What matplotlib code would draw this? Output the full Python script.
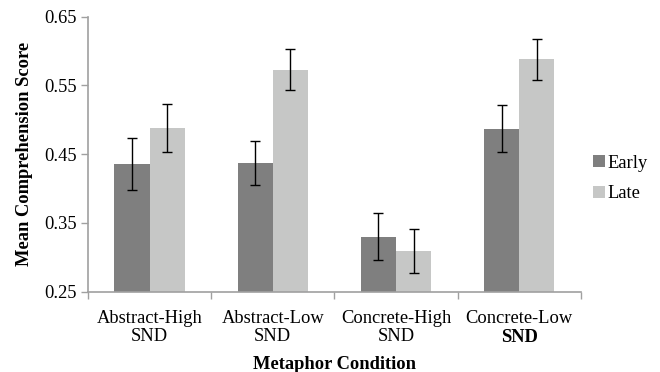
import matplotlib
matplotlib.use('Agg')
import matplotlib.pyplot as plt
import numpy as np

# Metaphor conditions and mean comprehension scores
CATEGORIES = ['Abstract-High\nSND', 'Abstract-Low\nSND', 'Concrete-High\nSND', 'Concrete-Low']
EARLY = [0.436, 0.437, 0.330, 0.487]
LATE = [0.488, 0.573, 0.309, 0.588]
EARLY_ERR = [0.038, 0.032, 0.034, 0.034]
LATE_ERR = [0.035, 0.030, 0.032, 0.030]
YTICKS = [0.25, 0.35, 0.45, 0.55, 0.65]

plt.rcParams['font.family'] = ['Liberation Serif', 'DejaVu Serif']
FS = 13.3

fig = plt.figure(figsize=(6.6, 3.72), dpi=100)
ax = fig.add_axes([0.1333, 0.2159, 0.7467, 0.7392])

x = np.arange(len(CATEGORIES))
w = 0.285
err_kw = dict(ecolor='black', elinewidth=1.0, capsize=3.5, capthick=1.0)
ax.bar(x - w / 2, EARLY, w, color='#7f7f7f', yerr=EARLY_ERR,
       error_kw=err_kw, label='Early')
ax.bar(x + w / 2, LATE, w, color='#c6c7c6', yerr=LATE_ERR,
       error_kw=err_kw, label='Late')

ax.set_xlim(-0.5, len(CATEGORIES) - 0.5)
ax.set_ylim(0.25, 0.65)
ax.set_yticks(YTICKS)
ax.set_yticklabels([f'{t:.2f}' for t in YTICKS], fontsize=FS)

# category labels centered, ticks on category boundaries
ax.set_xticks(x)
ax.set_xticklabels(CATEGORIES, fontsize=FS, linespacing=1.12)
ax.tick_params(axis='x', length=0, pad=13)
ax.set_xticks(np.arange(len(CATEGORIES) + 1) - 0.5, minor=True)
ax.tick_params(axis='x', which='minor', length=5, color='#a0a0a0', width=1)
ax.tick_params(axis='y', length=5, color='#a0a0a0', width=1, pad=3)
# second line of the last label is bold in the original
ax.text(x[-1], -0.165, 'SND', transform=ax.get_xaxis_transform(),
        ha='center', va='center', fontsize=FS, fontweight='bold')

for side in ['top', 'right']:
    ax.spines[side].set_visible(False)
for side in ['left', 'bottom']:
    ax.spines[side].set_color('#a0a0a0')
    ax.spines[side].set_linewidth(1.2)

ax.set_ylabel('Mean Comprehension Score', fontsize=FS, fontweight='bold', labelpad=8)
ax.set_xlabel('Metaphor Condition', fontsize=FS, fontweight='bold', labelpad=8)

ax.legend(loc='center left', bbox_to_anchor=(0.874, 0.52), bbox_transform=fig.transFigure,
          frameon=False, fontsize=FS, handlelength=0.6, handleheight=0.6,
          handletextpad=0.15, labelspacing=0.75)

fig.savefig('out.png', dpi=100)
